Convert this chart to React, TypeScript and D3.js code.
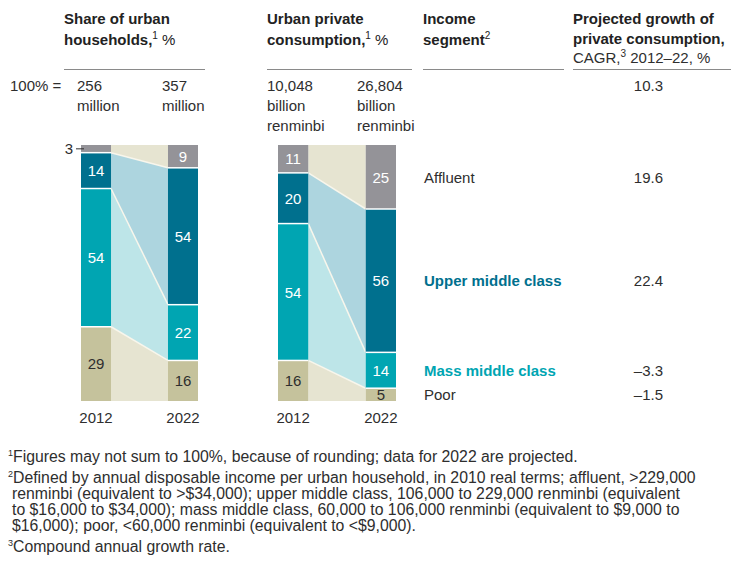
import React from "react";
import * as d3 from "d3";

const years = ["2012", "2022"];
const segments = ["Affluent", "Upper middle class", "Mass middle class", "Poor"];
const householdShare2012 = [3, 14, 54, 29];
const householdShare2022 = [9, 54, 22, 16];
const consumptionShare2012 = [11, 20, 54, 16];
const consumptionShare2022 = [25, 56, 14, 5];
const householdTotals = [["256", "million"], ["357", "million"]];
const consumptionTotals = [["10,048", "billion", "renminbi"], ["26,804", "billion", "renminbi"]];
const cagrTotal = "10.3";
const cagrBySegment = ["19.6", "22.4", "–3.3", "–1.5"];

const FONT = "'Liberation Sans', Arial, Helvetica, sans-serif";
const TEXT = "#2e2e2e";
const segColors = ["#949398", "#00708e", "#00a5b2", "#c5c29c"];
const bandColors = ["#e6e4d1", "#add5df", "#bde5e8", "#e6e4d1"];
const labelColors = ["#ffffff", "#ffffff", "#ffffff", "#2e2e2e"];
const segTextColors = [TEXT, "#00708e", "#00a5b2", TEXT];
const segTextWeights = [400, 700, 700, 400];

const Y0 = 145;
const Y1 = 401;

function stackOf(vals: number[]) {
  const total = d3.sum(vals);
  const y = d3.scaleLinear().domain([0, total]).range([Y0, Y1]);
  let c = 0;
  return vals.map((v) => {
    const s = { v, top: y(c), bottom: y(c + v) };
    c += v;
    return s;
  });
}

function Panel({ range, data }: { range: [number, number]; data: number[][] }) {
  const x = d3.scaleBand<string>().domain(years).range(range).paddingInner(0.655).paddingOuter(0);
  const bw = x.bandwidth();
  const stacks = data.map(stackOf);
  const xa = (x(years[0]) as number) + bw;
  const xb = x(years[1]) as number;
  const a = stacks[0];
  const b = stacks[1];
  return (
    <g>
      {segments.map((s, i) => (
        <polygon
          key={"band" + i}
          points={`${xa},${a[i].top} ${xb},${b[i].top} ${xb},${b[i].bottom} ${xa},${a[i].bottom}`}
          fill={bandColors[i]}
        />
      ))}
      {segments.slice(1).map((s, i) => (
        <line key={"bl" + i} x1={xa} x2={xb} y1={a[i + 1].top} y2={b[i + 1].top} stroke="#f8f6ec" strokeWidth={1.5} />
      ))}
      {stacks.map((st, j) => {
        const bx = x(years[j]) as number;
        return (
          <g key={"bar" + j}>
            {st.map((seg, i) => (
              <rect key={i} x={bx} y={seg.top} width={bw} height={seg.bottom - seg.top} fill={segColors[i]} />
            ))}
            {st.slice(1).map((seg, i) => (
              <line key={"s" + i} x1={bx} x2={bx + bw} y1={seg.top} y2={seg.top} stroke="#ffffff" strokeWidth={1.5} />
            ))}
            {st.map((seg, i) =>
              seg.v >= 4 ? (
                <text
                  key={"t" + i}
                  x={bx + bw / 2}
                  y={(seg.top + seg.bottom) / 2 + 5.5}
                  textAnchor="middle"
                  fontSize={15}
                  fill={labelColors[i]}
                >
                  {seg.v}
                </text>
              ) : (
                <g key={"t" + i}>
                  <text x={bx - 8} y={(seg.top + seg.bottom) / 2 + 5.5} textAnchor="end" fontSize={15} fill={TEXT}>
                    {seg.v}
                  </text>
                  <line x1={bx - 5} x2={bx + 3} y1={(seg.top + seg.bottom) / 2} y2={(seg.top + seg.bottom) / 2} stroke={TEXT} strokeWidth={1} />
                </g>
              )
            )}
            <text x={bx + bw / 2} y={423} textAnchor="middle" fontSize={15} fill={TEXT}>
              {years[j]}
            </text>
          </g>
        );
      })}
    </g>
  );
}

function Sup({ n }: { n: string }) {
  return (
    <tspan fontSize={10} fontWeight={400} dy={-6}>
      {n}
    </tspan>
  );
}

export default function App() {
  const right = stackOf(consumptionShare2022);
  const footnotes: { sup: string; lines: string[] }[] = [
    { sup: "1", lines: ["Figures may not sum to 100%, because of rounding; data for 2022 are projected."] },
    {
      sup: "2",
      lines: [
        "Defined by annual disposable income per urban household, in 2010 real terms; affluent, >229,000",
        "renminbi (equivalent to >$34,000); upper middle class, 106,000 to 229,000 renminbi (equivalent",
        "to $16,000 to $34,000); mass middle class, 60,000 to 106,000 renminbi (equivalent to $9,000 to",
        "$16,000); poor, <60,000 renminbi (equivalent to <$9,000).",
      ],
    },
    { sup: "3", lines: ["Compound annual growth rate."] },
  ];
  let fy = 462;
  const fnEls: React.ReactNode[] = [];
  footnotes.forEach((f, k) => {
    f.lines.forEach((ln, li) => {
      fnEls.push(
        <text key={`fn${k}-${li}`} x={li === 0 ? 8 : 12} y={fy} fontSize={15.8} fill={TEXT}>
          {li === 0 ? (
            <>
              <tspan fontSize={9} dy={-6}>{f.sup}</tspan>
              <tspan dy={6}>{ln}</tspan>
            </>
          ) : (
            ln
          )}
        </text>
      );
      fy += 16;
    });
    fy += 5;
  });

  return (
    <svg
      width={737}
      height={567}
      style={{ position: "absolute", left: 0, top: 0, background: "#ffffff" }}
      fontFamily={FONT}
    >
      <g fontSize={15} fill="#222" fontWeight={700}>
        <text x={64} y={24}>Share of urban</text>
        <text x={64} y={45}>
          households,<Sup n="1" />
          <tspan fontWeight={400} dy={6}> %</tspan>
        </text>
        <text x={267} y={24}>Urban private</text>
        <text x={267} y={45}>
          consumption,<Sup n="1" />
          <tspan fontWeight={400} dy={6}> %</tspan>
        </text>
        <text x={423} y={24}>Income</text>
        <text x={423} y={45}>
          segment<Sup n="2" />
        </text>
        <text x={573} y={24}>Projected growth of</text>
        <text x={573} y={44}>private consumption,</text>
        <text x={573} y={63} fontWeight={400} fill={TEXT}>
          CAGR,<Sup n="3" />
          <tspan dy={6}> 2012–22, %</tspan>
        </text>
      </g>
      <g stroke="#8a8a8a" strokeWidth={1}>
        <line x1={64} x2={205} y1={69.5} y2={69.5} />
        <line x1={267} x2={412} y1={69.5} y2={69.5} />
        <line x1={423} x2={564} y1={69.5} y2={69.5} />
        <line x1={573} x2={731} y1={69.5} y2={69.5} />
      </g>
      <g fontSize={15} fill={TEXT}>
        <text x={10} y={91}>100% =</text>
        {householdTotals.map((t, j) =>
          t.map((s, i) => (
            <text key={`h${j}${i}`} x={[77, 162][j]} y={91 + i * 20}>
              {s}
            </text>
          ))
        )}
        {consumptionTotals.map((t, j) =>
          t.map((s, i) => (
            <text key={`c${j}${i}`} x={[267, 357][j]} y={91 + i * 20}>
              {s}
            </text>
          ))
        )}
        <text x={663} y={91} textAnchor="end">{cagrTotal}</text>
      </g>
      <g fontSize={15}>
        <Panel range={[81, 198]} data={[householdShare2012, householdShare2022]} />
        <Panel range={[278, 396]} data={[consumptionShare2012, consumptionShare2022]} />
      </g>
      <g fontSize={15}>
        {segments.map((s, i) => {
          const cy = (right[i].top + right[i].bottom) / 2 + 5.5;
          return (
            <g key={s}>
              <text x={424} y={cy} fill={segTextColors[i]} fontWeight={segTextWeights[i]}>
                {s}
              </text>
              <text x={663} y={cy} textAnchor="end" fill={TEXT}>
                {cagrBySegment[i]}
              </text>
            </g>
          );
        })}
      </g>
      <g>{fnEls}</g>
    </svg>
  );
}
